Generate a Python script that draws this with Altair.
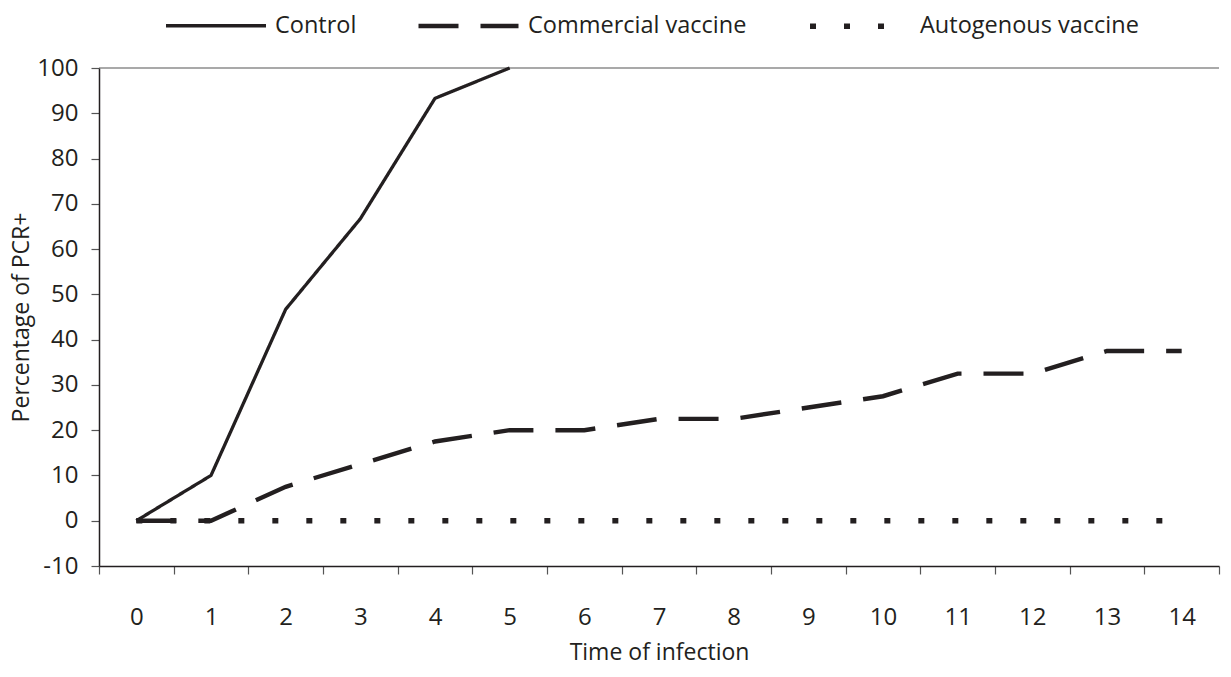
import altair as alt
import pandas as pd

# ---- data ----
days = list(range(15))
control = [0, 10, 46.7, 66.7, 93.3, 100]
commercial = [0, 0, 7.5, 12.5, 17.5, 20, 20, 22.5, 22.5, 25, 27.5, 32.5, 32.5, 37.5, 37.5]
autogenous = [0, 0, 0, 0, 0, 0, 0, 0, 0, 0, 0, 0, 0, 0, 0]
series_names = ["Control", "Commercial vaccine", "Autogenous vaccine"]
y_ticks = list(range(-10, 101, 10))

rows = []
for name, vals in zip(series_names, [control, commercial, autogenous]):
    for d, v in zip(days, vals):
        rows.append({"day": d, "value": v, "group": name})
df = pd.DataFrame(rows)

FONT = "Open Sans"
INK = "#231f20"

x_enc = alt.X(
    "day:O",
    scale=alt.Scale(type="band", paddingInner=0, paddingOuter=0, domain=days),
    bandPosition=0.5,
    axis=alt.Axis(
        title="Time of infection",
        tickBand="extent",
        labelAngle=0,
        tickSize=8,
        labelPadding=31,
        titlePadding=12,
        grid=False,
        domainColor=INK,
        domainWidth=1.5,
        tickColor="#555555",
        tickWidth=1.2,
    ),
)
y_enc = alt.Y(
    "value:Q",
    scale=alt.Scale(domain=[-10, 100], nice=False, zero=False),
    axis=alt.Axis(
        title="Percentage of PCR+",
        values=y_ticks,
        labelExpr="'' + datum.value",
        tickSize=8,
        labelPadding=13,
        titlePadding=3,
        grid=False,
        domainColor=INK,
        domainWidth=1.5,
        tickColor="#555555",
        tickWidth=1.2,
    ),
)

legend = alt.Legend(
    title=None,
    orient="none",
    legendX=65,
    legendY=-95,
    direction="horizontal",
    symbolType="stroke",
    symbolSize=10000,
    symbolStrokeColor=INK,
    labelFont=FONT,
    labelFontSize=23.5,
    labelColor=INK,
    labelOffset=7,
    columnPadding=52,
    labelLimit=400,
)

lines = alt.Chart(df).mark_line(color=INK, strokeCap="butt").encode(
    x=x_enc,
    y=y_enc,
    strokeDash=alt.StrokeDash(
        "group:N",
        scale=alt.Scale(domain=series_names, range=[[1, 0], [40, 22], [6, 28]]),
        legend=legend,
    ),
    strokeWidth=alt.StrokeWidth(
        "group:N",
        scale=alt.Scale(domain=series_names, range=[3.3, 5.5, 6]),
        legend=legend,
    ),
    order=alt.Order("day:Q"),
)

top_rule = alt.Chart(pd.DataFrame({"value": [100]})).mark_rule(
    color="#555555", strokeWidth=1.2
).encode(y=alt.Y("value:Q"))

chart = (
    alt.layer(top_rule, lines)
    .properties(
        width=1120,
        height=498,
        autosize=alt.AutoSizeParams(type="none"),
        padding={"left": 91, "top": 60, "right": 4, "bottom": 103},
    )
    .configure_view(stroke=None)
    .configure_axis(
        labelFont=FONT,
        titleFont=FONT,
        labelFontSize=24,
        titleFontSize=23,
        titleFontWeight="normal",
        labelColor=INK,
        titleColor=INK,
    )
)

chart.save("out.html", embed_options={"renderer": "svg", "actions": False})
